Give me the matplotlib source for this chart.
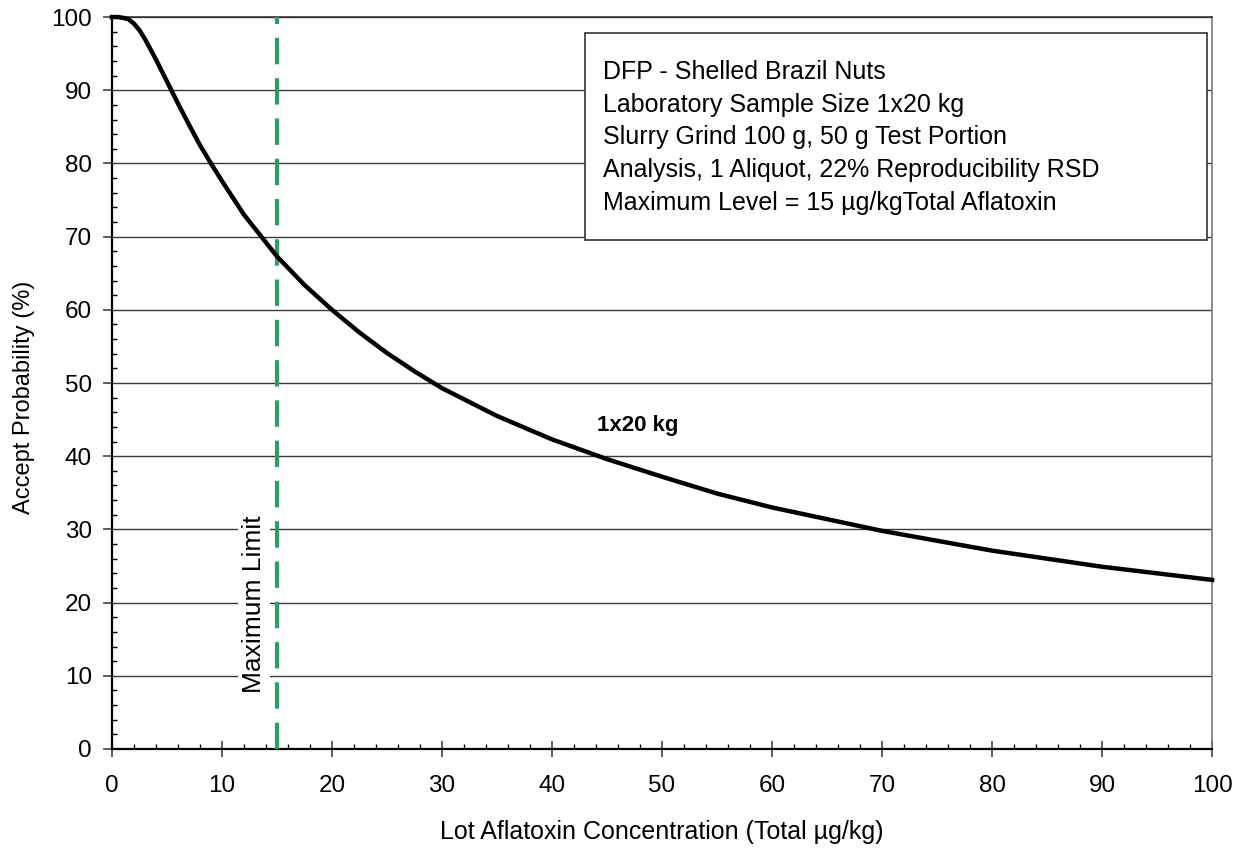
import matplotlib
matplotlib.use('Agg')
import matplotlib.pyplot as plt
from matplotlib.ticker import MultipleLocator
from matplotlib.patches import Rectangle

# values
conc = [0, 0.5, 1, 1.5, 2, 2.5, 3, 3.5, 4, 5, 6, 7, 8, 9, 10, 12, 15, 17.5, 20,
        22.5, 25, 27.5, 30, 35, 40, 45, 50, 55, 60, 70, 80, 90, 100]
accept = [100, 100, 99.9, 99.7, 99.1, 98.2, 97.0, 95.6, 94.2, 91.2, 88.2, 85.3,
          82.5, 80.0, 77.6, 73.0, 67.3, 63.4, 60.0, 56.9, 54.1, 51.6, 49.3,
          45.5, 42.3, 39.6, 37.2, 34.9, 33.0, 29.8, 27.1, 24.9, 23.1]
max_level = 15
info_lines = ['DFP - Shelled Brazil Nuts',
              'Laboratory Sample Size 1x20 kg',
              'Slurry Grind 100 g, 50 g Test Portion',
              'Analysis, 1 Aliquot, 22% Reproducibility RSD',
              'Maximum Level = 15 \u00b5g/kgTotal Aflatoxin']
curve_label = '1x20 kg'

plt.rcParams['font.family'] = ['Liberation Sans', 'DejaVu Sans']
plt.rcParams['lines.scale_dashes'] = False

fig = plt.figure(figsize=(12.48, 8.52), dpi=100)
ax = fig.add_axes([0.0897, 0.1209, 0.8815, 0.8591])

ax.set_xlim(0, 100)
ax.set_ylim(0, 100)
ax.xaxis.set_major_locator(MultipleLocator(10))
ax.xaxis.set_minor_locator(MultipleLocator(2))
ax.yaxis.set_major_locator(MultipleLocator(10))
ax.yaxis.set_minor_locator(MultipleLocator(2))

ax.yaxis.grid(True, which='major', color='#3a3a3a', linewidth=1.0, zorder=1)
ax.tick_params(axis='x', which='major', direction='inout', length=11, width=1.2,
               color='#444444', labelsize=17.5, pad=13)
ax.tick_params(axis='x', which='minor', direction='in', length=3.6, width=1.0, color='black')
ax.tick_params(axis='y', which='major', direction='out', length=6.3, width=1.2,
               color='#444444', labelsize=17.5, pad=8)
ax.tick_params(axis='y', which='minor', direction='in', length=3.6, width=1.0, color='black')

for s in ['left', 'bottom']:
    ax.spines[s].set_color('black')
    ax.spines[s].set_linewidth(1.6)
ax.spines['right'].set_color('#777777')
ax.spines['right'].set_linewidth(1.2)
ax.spines['top'].set_color('#333333')
ax.spines['top'].set_linewidth(1.2)

ax.text(12.9, 19.8, 'Maximum Limit', rotation=90, ha='center', va='center',
        fontsize=19, zorder=2,
        bbox=dict(facecolor='white', edgecolor='none', pad=3))
ax.plot([max_level, max_level], [0, 100], color='#2e9e64', linewidth=3,
        dashes=(19, 10), zorder=3, clip_on=False)
ax.plot(conc, accept, color='black', linewidth=3.2, zorder=4, clip_on=False)

ax.text(47.8, 44.2, curve_label, fontsize=16, fontweight='bold', ha='center', va='center')

ax.add_patch(Rectangle((0.43, 0.695), 0.5655, 0.283, transform=ax.transAxes,
                       facecolor='white', edgecolor='#333333', linewidth=1.2, zorder=5))
for i, line in enumerate(info_lines):
    ax.text(0.446, 0.925 - i * 0.0447, line, transform=ax.transAxes, fontsize=18,
            ha='left', va='center', zorder=6)

ax.set_xlabel('Lot Aflatoxin Concentration (Total \u00b5g/kg)', fontsize=18, va='center')
ax.xaxis.set_label_coords(0.5, -0.113)
ax.set_ylabel('Accept Probability (%)', fontsize=17, va='center')
ax.yaxis.set_label_coords(-0.08, 0.48)

fig.savefig('out.png', dpi=100)
